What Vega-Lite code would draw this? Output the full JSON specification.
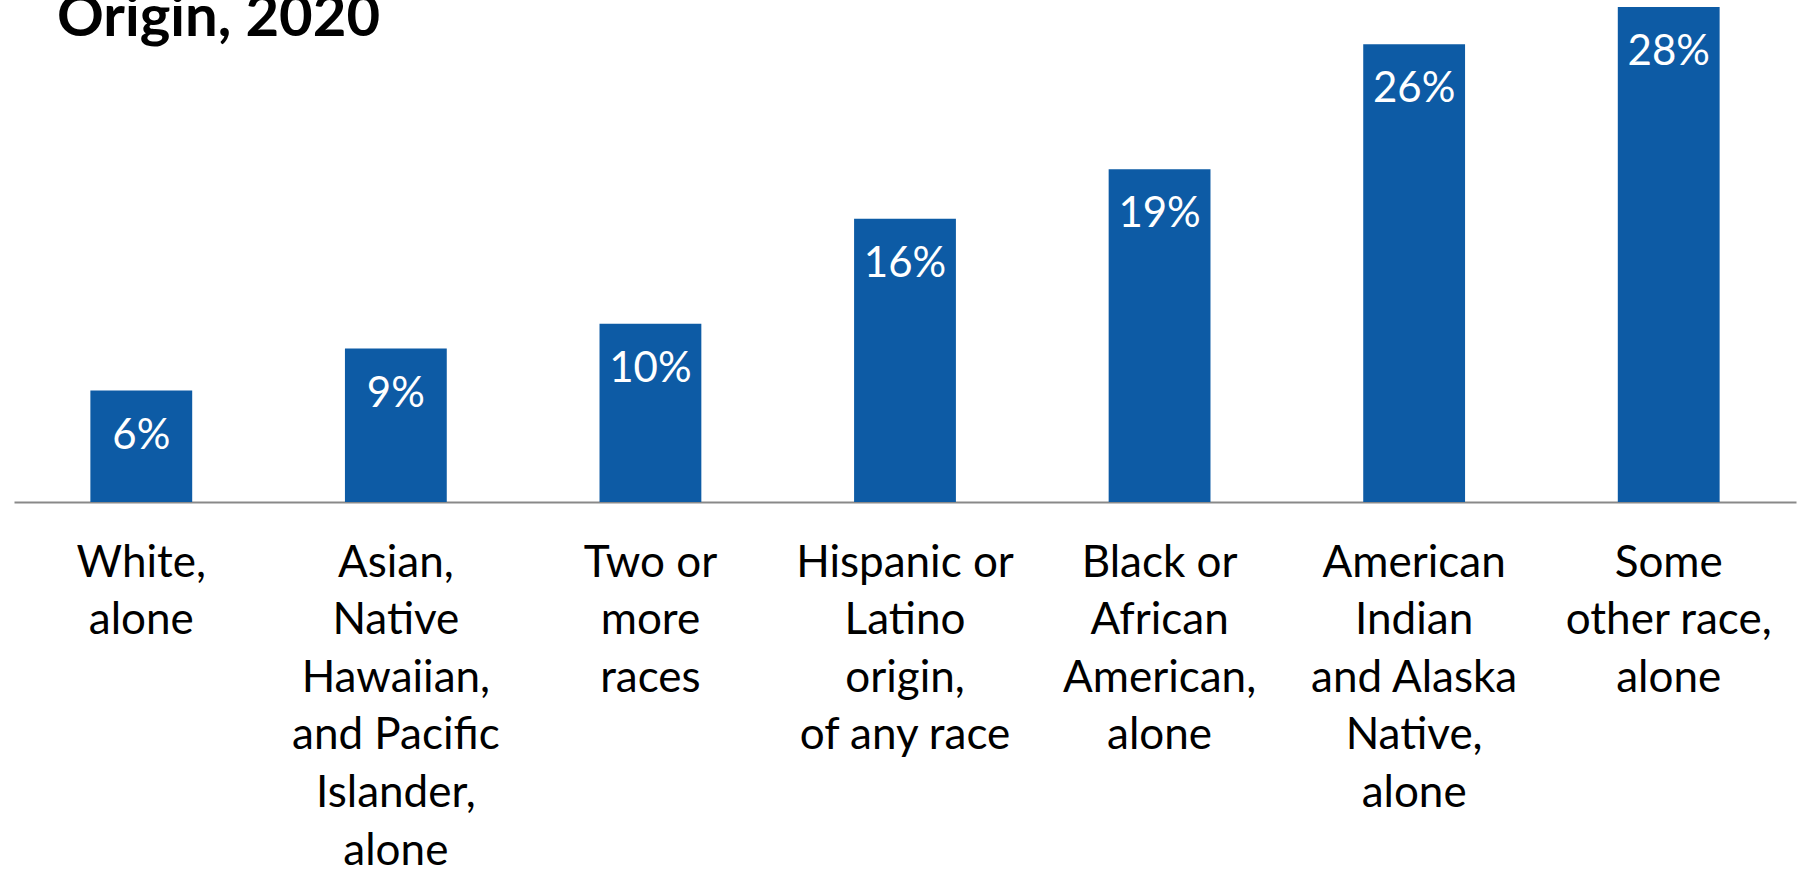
{
  "$schema": "https://vega.github.io/schema/vega-lite/v6.json",
  "autosize": {"type": "none"},
  "width": 1782,
  "height": 502,
  "padding": {"left": 14, "top": 0, "right": 9, "bottom": 372},
  "background": "white",
  "title": {
    "text": "Origin, 2020",
    "anchor": "start",
    "frame": "group",
    "font": "Lato",
    "fontSize": 58,
    "fontWeight": "bold",
    "color": "#000000",
    "offset": -48,
    "dx": 43
  },
  "data": {
    "values": [
      {"group": "White,|alone", "share": 0.0631},
      {"group": "Asian,|Native|Hawaiian,|and Pacific|Islander,|alone", "share": 0.0869},
      {"group": "Two or|more|races", "share": 0.1010},
      {"group": "Hispanic or|Latino|origin,|of any race", "share": 0.1605},
      {"group": "Black or|African|American,|alone", "share": 0.1885},
      {"group": "American|Indian|and Alaska|Native,|alone", "share": 0.2593},
      {"group": "Some|other race,|alone", "share": 0.2805}
    ]
  },
  "encoding": {
    "x": {
      "field": "group",
      "type": "nominal",
      "sort": null,
      "scale": {"paddingInner": 0.6, "paddingOuter": 0.3},
      "axis": {
        "title": null,
        "labelAngle": 0,
        "labelExpr": "split(datum.label, '|')",
        "labelFont": "Lato",
        "labelFontSize": 44,
        "labelColor": "#000000",
        "labelLineHeight": 57.6,
        "labelPadding": 39,
        "labelBaseline": "top",
        "labelLimit": 0,
        "ticks": false,
        "domainColor": "#898989",
        "domainWidth": 2
      }
    },
    "y": {
      "field": "share",
      "type": "quantitative",
      "scale": {"domain": [0, 0.2844], "nice": false, "zero": true},
      "axis": null
    }
  },
  "layer": [
    {"mark": {"type": "bar", "color": "#0D5BA5"}},
    {
      "mark": {
        "type": "text",
        "color": "#FFFFFF",
        "font": "Lato",
        "fontSize": 42,
        "baseline": "alphabetic",
        "align": "center",
        "dy": 58
      },
      "encoding": {"text": {"field": "share", "type": "quantitative", "format": ".0%"}}
    }
  ],
  "config": {"view": {"stroke": null}}
}
